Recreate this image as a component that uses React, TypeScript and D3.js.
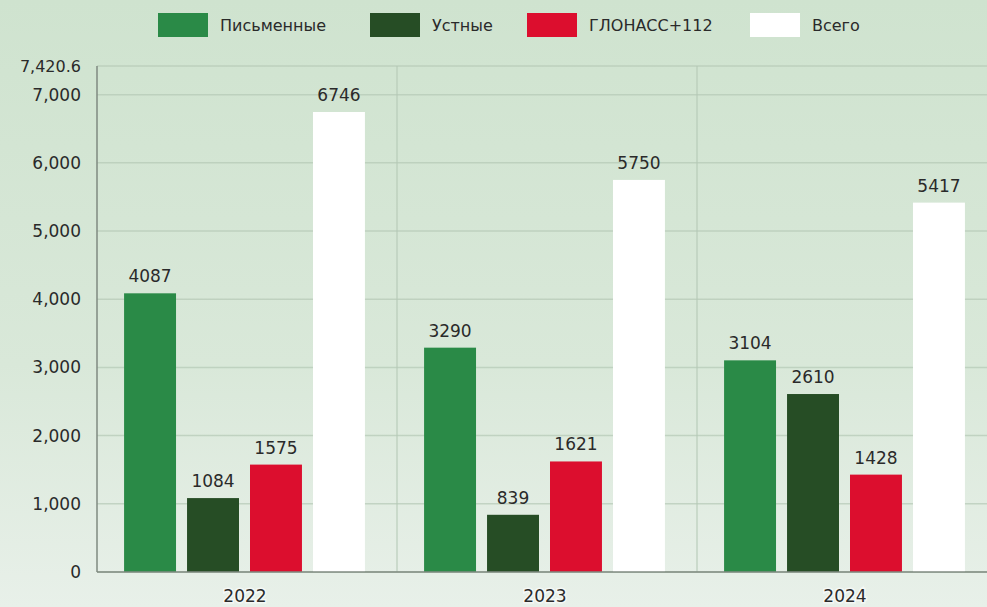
import React from "react";
import * as d3 from "d3";

const years = ["2022", "2023", "2024"];
const seriesNames = ["Письменные", "Устные", "ГЛОНАСС+112", "Всего"];
const written = [4087, 3290, 3104];
const oral = [1084, 839, 2610];
const glonass = [1575, 1621, 1428];
const total = [6746, 5750, 5417];
const yTicks = [0, 1000, 2000, 3000, 4000, 5000, 6000, 7000];
const yMax = 7420.6;
const colors = ["#2a8a47", "#264d25", "#dc0e2e", "#ffffff"];

const W = 987;
const H = 607;
const FONT = "'DejaVu Sans', sans-serif";

export default function App() {
  const seriesValues = [written, oral, glonass, total];
  const x0 = d3.scaleBand<string>().domain(years).range([97, 997]).padding(0);
  const x1 = d3
    .scaleBand<string>()
    .domain(seriesNames)
    .range([0, 295])
    .paddingInner(0.175)
    .paddingOuter(0.43);
  const y = d3.scaleLinear().domain([0, yMax]).range([572, 66]);
  const fmt = d3.format(",");
  const legendX = [158, 370, 527, 750];

  return (
    <svg
      width={W}
      height={H}
      style={{ position: "absolute", left: 0, top: 0, display: "block" }}
      fontFamily={FONT}
    >
      <defs>
        <linearGradient id="bg" x1="0" y1="0" x2="0" y2="1">
          <stop offset="0%" stopColor="#cfe3cf" />
          <stop offset="60%" stopColor="#d9e8d9" />
          <stop offset="100%" stopColor="#e8f0e9" />
        </linearGradient>
      </defs>
      <rect x={0} y={0} width={W} height={H} fill="url(#bg)" />

      {/* legend */}
      {seriesNames.map((s, i) => (
        <g key={s}>
          <rect x={legendX[i]} y={13} width={50} height={24} fill={colors[i]} />
          <text x={legendX[i] + 62} y={31} fontSize={16} fill="#2a2a2a">
            {s}
          </text>
        </g>
      ))}

      {/* horizontal gridlines */}
      {[...yTicks, yMax].map((t) => (
        <line
          key={t}
          x1={97}
          x2={W}
          y1={y(t)}
          y2={y(t)}
          stroke="#b5c9b6"
          strokeWidth={1.5}
          opacity={0.7}
        />
      ))}
      {/* vertical gridlines */}
      {years.slice(1).map((yr) => (
        <line
          key={yr}
          x1={x0(yr)!}
          x2={x0(yr)!}
          y1={66}
          y2={572}
          stroke="#b5c9b6"
          strokeWidth={1.5}
          opacity={0.7}
        />
      ))}

      {/* bars */}
      {years.map((yr, yi) => (
        <g key={yr} transform={`translate(${x0(yr)},0)`}>
          {seriesNames.map((s, si) => {
            const v = seriesValues[si][yi];
            const bx = x1(s)!;
            const bw = x1.bandwidth();
            return (
              <g key={s}>
                <rect x={bx} y={y(v)} width={bw} height={572 - y(v)} fill={colors[si]} />
                <text
                  x={bx + bw / 2}
                  y={y(v) - 11}
                  textAnchor="middle"
                  fontSize={17}
                  fill="#2a2a2a"
                >
                  {v}
                </text>
              </g>
            );
          })}
        </g>
      ))}

      {/* axes */}
      <line x1={97} x2={97} y1={66} y2={572} stroke="#7f8a80" strokeWidth={1.5} />
      <line x1={97} x2={W} y1={572} y2={572} stroke="#7f8a80" strokeWidth={1.5} />

      {[...yTicks, yMax].map((t) => (
        <text
          key={t}
          x={81}
          y={y(t) + 6}
          textAnchor="end"
          fontSize={t === yMax ? 16 : 17}
          fill="#2a2a2a"
        >
          {fmt(t)}
        </text>
      ))}

      {years.map((yr) => (
        <text
          key={yr}
          x={x0(yr)! + 148}
          y={602}
          textAnchor="middle"
          fontSize={17}
          fill="#2a2a2a"
          stroke="#ffffff"
          strokeWidth={3}
          strokeOpacity={0.6}
          paintOrder="stroke"
        >
          {yr}
        </text>
      ))}
    </svg>
  );
}
